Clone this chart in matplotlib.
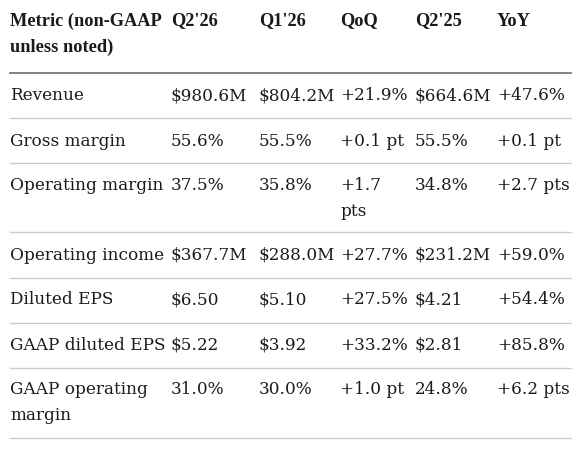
import matplotlib
matplotlib.use("Agg")
import matplotlib.pyplot as plt

headers = [["Metric (non-GAAP", "unless noted)"], ["Q2'26"], ["Q1'26"], ["QoQ"], ["Q2'25"], ["YoY"]]
metrics = [["Revenue"], ["Gross margin"], ["Operating margin"], ["Operating income"],
           ["Diluted EPS"], ["GAAP diluted EPS"], ["GAAP operating", "margin"]]
q2_26 = ["$980.6M", "55.6%", "37.5%", "$367.7M", "$6.50", "$5.22", "31.0%"]
q1_26 = ["$804.2M", "55.5%", "35.8%", "$288.0M", "$5.10", "$3.92", "30.0%"]
qoq = [["+21.9%"], ["+0.1 pt"], ["+1.7", "pts"], ["+27.7%"], ["+27.5%"], ["+33.2%"], ["+1.0 pt"]]
q2_25 = ["$664.6M", "55.5%", "34.8%", "$231.2M", "$4.21", "$2.81", "24.8%"]
yoy = ["+47.6%", "+0.1 pt", "+2.7 pts", "+59.0%", "+54.4%", "+85.8%", "+6.2 pts"]

W, H = 581, 450
fig = plt.figure(figsize=(W/100, H/100), dpi=100)
ax = fig.add_axes([0, 0, 1, 1])
ax.set_xlim(0, W); ax.set_ylim(H, 0); ax.axis("off")

col_x = [10, 171, 259, 340, 415, 497]
lh = 26

def put(x, y, lines, bold=False):
    for i, t in enumerate(lines):
        if bold:
            ax.text(x, y + i*lh, t, family="Liberation Serif", fontsize=13.2, va="center",
                    ha="left", fontweight="bold", color="#1a1a1a")
        else:
            ax.text(x, y + i*lh, t, family="DejaVu Serif", fontsize=12.2, va="center",
                    ha="left", color="#1a1a1a")

for x, h in zip(col_x, headers):
    put(x, 21, h, bold=True)
ax.plot([10, 571], [73, 73], color="#777777", lw=1.3)

row_y = [96, 141, 185, 255, 300, 345, 390]
line_y = [118, 163, 232, 278, 323, 368, 438]
for i in range(len(metrics)):
    y = row_y[i]
    put(col_x[0], y, metrics[i])
    put(col_x[1], y, [q2_26[i]])
    put(col_x[2], y, [q1_26[i]])
    put(col_x[3], y, qoq[i])
    put(col_x[4], y, [q2_25[i]])
    put(col_x[5], y, [yoy[i]])
    ax.plot([10, 571], [line_y[i], line_y[i]], color="#cccccc", lw=1)

fig.savefig("out.png", dpi=100, facecolor="white")
